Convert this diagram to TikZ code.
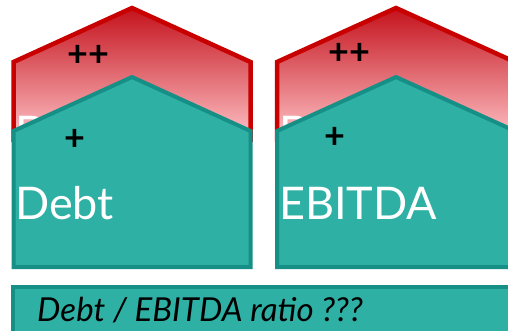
\documentclass[tikz,border=0pt]{standalone}
\usepackage{fontspec}
\setmainfont{Lato}
\definecolor{roofred}{RGB}{200,0,0}
\definecolor{roofdark}{RGB}{196,18,28}
\definecolor{rooflight}{RGB}{255,196,200}
\definecolor{tealfill}{RGB}{46,176,165}
\definecolor{tealline}{RGB}{22,143,135}
\tikzset{
  redhouse/.style={draw=roofred, line width=4.5pt, line join=miter, top color=roofdark, bottom color=rooflight},
  tealhouse/.style={draw=tealline, line width=4pt, fill=tealfill},
  plus/.style={inner sep=0pt, font=\fontsize{36}{36}\selectfont\bfseries},
  biglabel/.style={inner sep=0pt, anchor=base west, text=white, font=\fontsize{45}{45}\selectfont}
}
\begin{document}
\begin{tikzpicture}[x=1pt,y=-1pt]
    \useasboundingbox (0,0) rectangle (508,331);
    % left pair
    \draw [redhouse] (13.5,140) -- (13.5,62) -- (132,8) -- (250.5,62) -- (250.5,140) -- cycle;
    \node [biglabel] (debtback) at (15,149) {D};
    \node [plus] (plustwoa) at (88,56) {++};
    \draw [tealhouse] (13.5,267) -- (13.5,131) -- (132,77) -- (250.5,131) -- (250.5,267) -- cycle;
    \node [plus] (plusonea) at (75,140) {+};
    \node [biglabel] (debt) at (15,219) {Debt};
    % right pair
    \draw [redhouse] (277,140) -- (277,62) -- (396,8) -- (515,62) -- (515,140) -- cycle;
    \node [biglabel] (debtbackb) at (279,149) {D};
    \node [plus] (plustwob) at (349,54) {++};
    \draw [tealhouse] (277,267) -- (277,131) -- (396,77) -- (515,131) -- (515,267) -- cycle;
    \node [plus] (plusoneb) at (335,138) {+};
    \node [biglabel] (ebitda) at (279,219) {EBITDA};
    % ratio bar
    \draw [tealhouse] (13,340) -- (13,287) -- (520,287) -- (520,340) -- cycle;
    \node [inner sep=0pt, anchor=base west, font=\fontsize{33}{33}\selectfont\itshape] (ratio) at (37,321) {Debt / EBITDA ratio ???};
\end{tikzpicture}
\end{document}
